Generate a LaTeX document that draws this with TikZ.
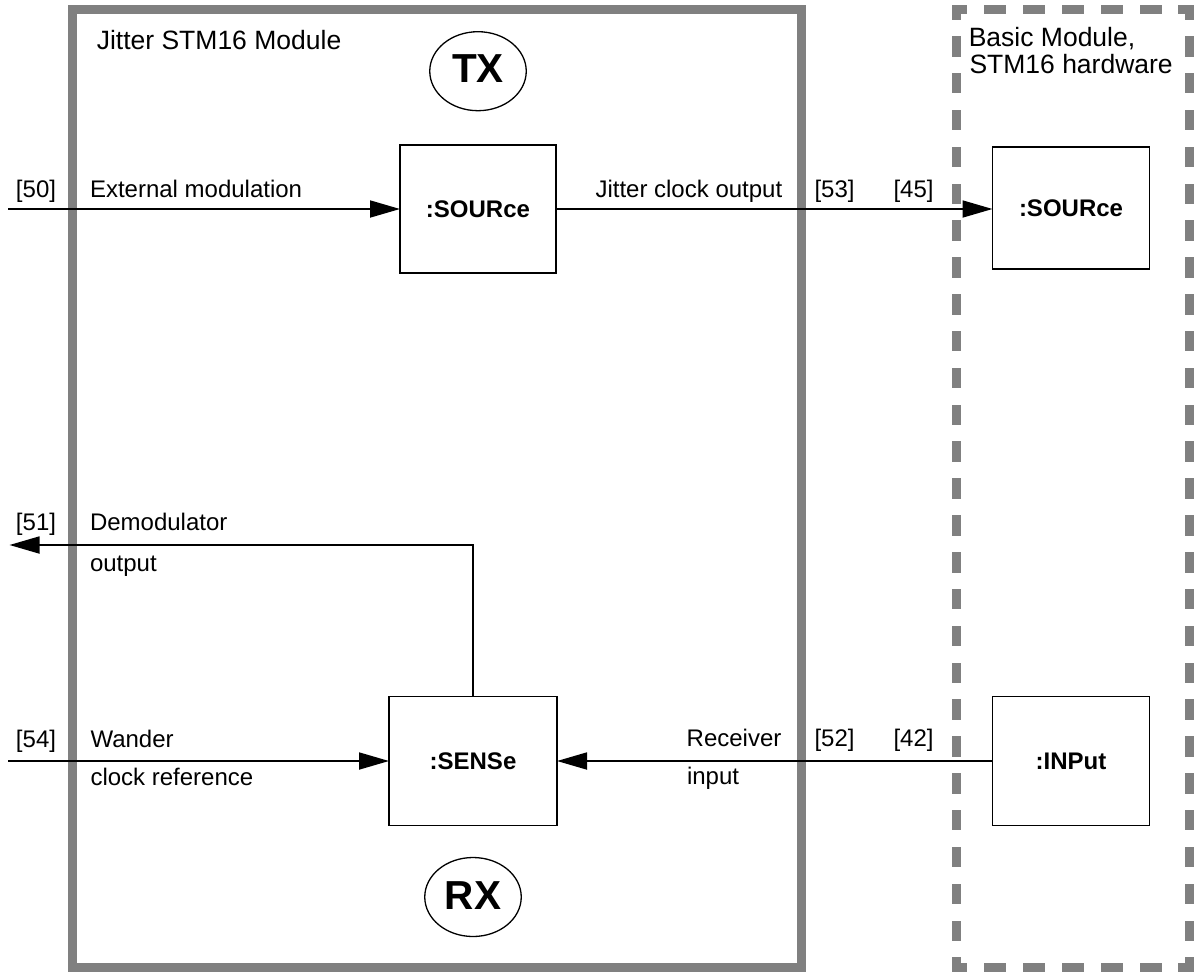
\documentclass[tikz,border=0pt]{standalone}
\usepackage{fontspec}
\setmainfont{Liberation Sans}
\usetikzlibrary{arrows.meta,shapes.geometric}

\definecolor{framegray}{RGB}{128,128,128}

\begin{document}
\begin{tikzpicture}[x=1pt,y=-1pt,
  lbl/.style={anchor=base west, inner sep=0pt, outer sep=0pt, font=\fontsize{24}{28}\selectfont},
  ttl/.style={anchor=base west, inner sep=0pt, outer sep=0pt, font=\fontsize{26.5}{30}\selectfont},
  blk/.style={draw, line width=1.8pt, rectangle, inner sep=0pt, outer sep=0pt,
    font=\bfseries\fontsize{24}{28}\selectfont},
  side/.style={draw, ellipse, line width=1.3pt, inner sep=0pt, outer sep=0pt,
    minimum width=96.5pt, minimum height=79pt, font=\bfseries\fontsize{40.5}{44}\selectfont},
  conn/.style={line width=1.8pt, -{Triangle[length=30pt,width=17pt]}},
  solidframe/.style={draw=framegray, line width=8.8pt},
  hdash/.style={draw=framegray, line width=9pt, line cap=rect,
    dash pattern=on 13pt off 25.9pt, dash phase=6.5pt},
  vdash/.style={draw=framegray, line width=9pt, line cap=rect,
    dash pattern=on 11.5pt off 25.35pt, dash phase=5.75pt}
]
\useasboundingbox (0,0) rectangle (1204,972);

% Jitter STM16 module frame
\draw[solidframe] (72.2,9.5) rectangle (801.2,967.5);

% Basic module frame (dashed, each side drawn separately)
\draw[hdash] (956,9.5) -- (1189.5,9.5);
\draw[hdash] (956,967.5) -- (1189.5,967.5);
\draw[vdash] (956,9.5) -- (956,967.5);
\draw[vdash] (1189.5,9.5) -- (1189.5,967.5);

% Frame titles
\node[ttl] (jtitle) at (96.8,49.3) {Jitter STM16 Module};
\node[ttl] (btitle1) at (968.8,46.7) {Basic Module,};
\node[ttl] (btitle2) at (969.5,73.3) {STM16 hardware};

% TX / RX markers
\node[side, text depth=6pt] (tx) at (478,71.2) {TX};
\node[side, text depth=2pt] (rx) at (473,897) {RX};

% Function blocks
\node[blk, minimum width=156pt, minimum height=128pt] (src) at (478,209) {:SOURce};
\node[blk, minimum width=157pt, minimum height=122pt] (bsrc) at (1071,208) {:SOURce};
\node[blk, minimum width=168pt, minimum height=129pt] (sns) at (473,761) {:SENSe};
\node[blk, minimum width=157pt, minimum height=129pt] (inp) at (1071,761) {:INPut};

% Free ends of the external connectors
\coordinate (in50) at (8,209);
\coordinate (out51) at (9.5,545);
\coordinate (in54) at (8,761);

% Connectors
\draw[conn] (in50) -- (src.west);
\draw[conn] (src.east) -- (src.east -| bsrc.west);
\draw[conn] (sns.north) |- (out51);
\draw[conn] (in54) -- (sns.west);
\draw[conn] (inp.west) -- (inp.west -| sns.east);

% Connector labels
\node[lbl] (n50) at (16,197) {[50]};
\node[lbl] (extmod) at (90,197) {External modulation};
\node[lbl] (jclk) at (595.5,197) {Jitter clock output};
\node[lbl] (n53) at (814.5,197) {[53]};
\node[lbl] (n45) at (893.5,197) {[45]};

\node[lbl] (n51) at (16,530) {[51]};
\node[lbl] (demod1) at (90,530) {Demodulator};
\node[lbl] (demod2) at (90,571.7) {output};

\node[lbl] (n54) at (16,747.7) {[54]};
\node[lbl] (wander1) at (90.5,747.7) {Wander};
\node[lbl] (wander2) at (90.5,785) {clock reference};

\node[lbl] (recv1) at (686.7,746.7) {Receiver};
\node[lbl] (recv2) at (687,784) {input};
\node[lbl] (n52) at (814.5,746.7) {[52]};
\node[lbl] (n42) at (893.5,746.7) {[42]};
\end{tikzpicture}
\end{document}
